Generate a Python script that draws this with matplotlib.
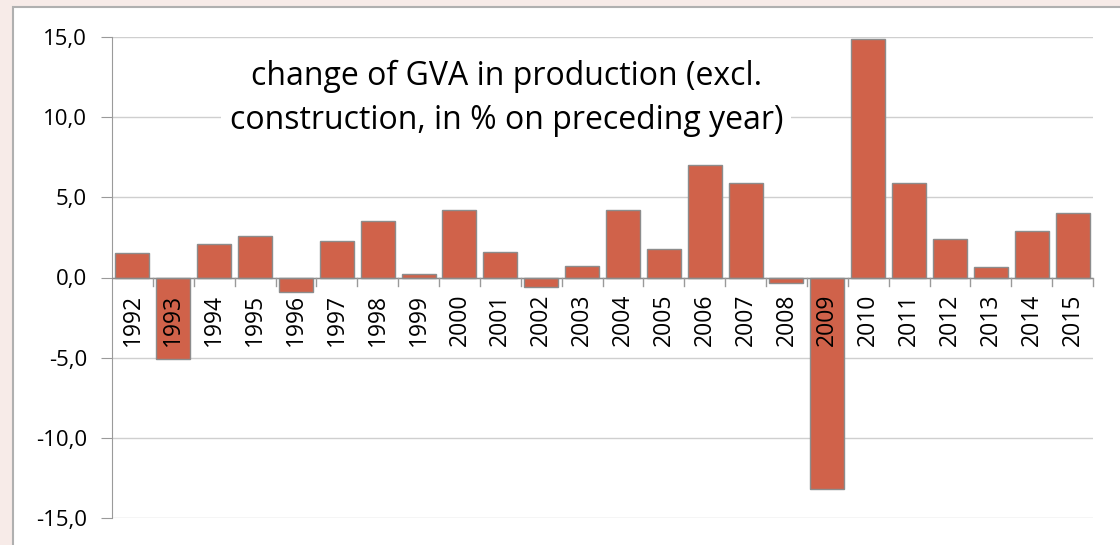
import matplotlib.pyplot as plt
from matplotlib.patches import Rectangle
from matplotlib.ticker import FuncFormatter, MultipleLocator

# data
years = [str(y) for y in range(1992, 2016)]
gva_change = [1.5, -5.1, 2.1, 2.6, -0.9, 2.3, 3.5, 0.2, 4.2, 1.6, -0.6, 0.7,
              4.2, 1.8, 7.0, 5.9, -0.35, -13.2, 14.9, 5.9, 2.4, 0.65, 2.9, 4.0]
title_lines = "change of GVA in production (excl.\nconstruction, in % on preceding year)"

plt.rcParams['font.family'] = ['Open Sans', 'DejaVu Sans']

fig = plt.figure(figsize=(11.2, 5.45), dpi=100, facecolor='#f7ebe8')
# white chart area with a grey frame
fig.patches.append(Rectangle((13 / 1120, -0.05), 1.1, 1 - 7 / 545 + 0.05,
                             transform=fig.transFigure, facecolor='white',
                             edgecolor='#b0b0b0', linewidth=1.5, zorder=-5))

ax = fig.add_axes([112 / 1120, 1 - 518 / 545, (1093 - 112) / 1120, (518 - 37) / 545])
ax.set_zorder(2)
ax.set_facecolor('none')

x = range(len(years))
ax.bar(x, gva_change, width=0.83, color='#d0624a', edgecolor='#8c8c8c',
       linewidth=1, zorder=3)

ax.set_xlim(-0.5, len(years) - 0.5)
ax.set_ylim(-15, 15)
ax.yaxis.set_major_locator(MultipleLocator(5))
ax.yaxis.set_major_formatter(FuncFormatter(lambda v, p: f"{v:.1f}".replace('.', ',')))
ax.grid(axis='y', color='#cfcfcf', linewidth=1, zorder=0)

for s in ['top', 'right', 'bottom']:
    ax.spines[s].set_visible(False)
ax.spines['left'].set_color('#9a9a9a')
ax.tick_params(axis='y', length=8, color='#9a9a9a', labelsize=16, pad=10)

# zero line with ticks between categories
ax.axhline(0, color='#8c8c8c', linewidth=1, zorder=4)
ax.set_xticks([])
for i in range(len(years)):
    ax.plot([i + 0.5, i + 0.5], [0, -0.55], color='#9a9a9a', linewidth=1,
            zorder=4, clip_on=False)
    ax.text(i, -1.0, years[i], rotation=90, ha='center', va='top',
            fontsize=16.5, color='black', zorder=5)

# title box sits inside the plot and hides the gridline behind it
ax.text(0.402, 0.873, title_lines, transform=ax.transAxes, ha='center',
        va='center', fontsize=23, linespacing=1.45, zorder=5,
        bbox=dict(facecolor='white', edgecolor='none', pad=6))

fig.savefig("out.png", dpi=100, facecolor=fig.get_facecolor())
